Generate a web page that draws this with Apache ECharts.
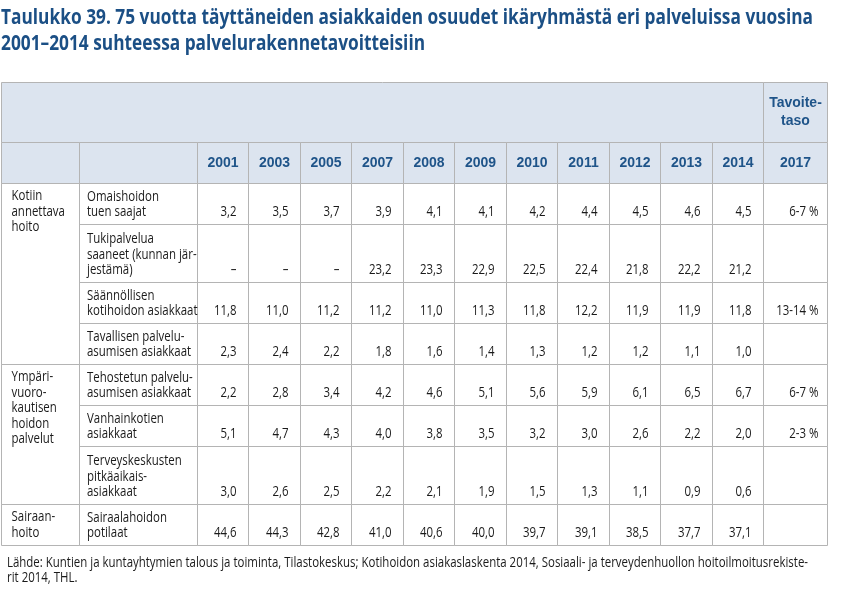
<!DOCTYPE html>
<html>
<head>
<meta charset="utf-8">
<script src="https://cdn.jsdelivr.net/npm/echarts@6/dist/echarts.min.js"></script>
<style>
html,body{margin:0;padding:0;background:#fff;}
#chart{width:842px;height:593px;}
</style>
</head>
<body>
<div id="chart"></div>
<script>
// ---- DATA ----
const titleLines = ['Taulukko 39. 75 vuotta täyttäneiden asiakkaiden osuudet ikäryhmästä eri palveluissa vuosina', '2001–2014 suhteessa palvelurakennetavoitteisiin'];
const sourceLines = ['Lähde: Kuntien ja kuntayhtymien talous ja toiminta, Tilastokeskus; Kotihoidon asiakaslaskenta 2014, Sosiaali- ja terveydenhuollon hoitoilmoitusrekiste-', 'rit 2014, THL.'];
const years = ['2001', '2003', '2005', '2007', '2008', '2009', '2010', '2011', '2012', '2013', '2014'];
const targetHeader = 'Tavoite-\ntaso';
const targetYear = '2017';
const groups = ['Kotiin\nannettava\nhoito', 'Ympäri-\nvuoro-\nkautisen\nhoidon\npalvelut', 'Sairaan-\nhoito'];
const rowGroup = [0, 0, 0, 0, 1, 1, 1, 2];
const services = [
  'Omaishoidon\ntuen saajat',
  'Tukipalvelua\nsaaneet (kunnan jär-\njestämä)',
  'Säännöllisen\nkotihoidon asiakkaat',
  'Tavallisen palvelu-\nasumisen asiakkaat',
  'Tehostetun palvelu-\nasumisen asiakkaat',
  'Vanhainkotien\nasiakkaat',
  'Terveyskeskusten\npitkäaikais-\nasiakkaat',
  'Sairaalahoidon\npotilaat'
];
const omaishoito   = [3.2, 3.5, 3.7, 3.9, 4.1, 4.1, 4.2, 4.4, 4.5, 4.6, 4.5];
const tukipalvelu  = [null, null, null, 23.2, 23.3, 22.9, 22.5, 22.4, 21.8, 22.2, 21.2];
const kotihoito    = [11.8, 11.0, 11.2, 11.2, 11.0, 11.3, 11.8, 12.2, 11.9, 11.9, 11.8];
const tavallinenPA = [2.3, 2.4, 2.2, 1.8, 1.6, 1.4, 1.3, 1.2, 1.2, 1.1, 1.0];
const tehostettuPA = [2.2, 2.8, 3.4, 4.2, 4.6, 5.1, 5.6, 5.9, 6.1, 6.5, 6.7];
const vanhainkoti  = [5.1, 4.7, 4.3, 4.0, 3.8, 3.5, 3.2, 3.0, 2.6, 2.2, 2.0];
const terveyskesk  = [3.0, 2.6, 2.5, 2.2, 2.1, 1.9, 1.5, 1.3, 1.1, 0.9, 0.6];
const sairaala     = [44.6, 44.3, 42.8, 41.0, 40.6, 40.0, 39.7, 39.1, 38.5, 37.7, 37.1];
const rowValues = [omaishoito, tukipalvelu, kotihoito, tavallinenPA, tehostettuPA, vanhainkoti, terveyskesk, sairaala];
const targets = ['6-7 %', '', '13-14 %', '', '6-7 %', '2-3 %', '', ''];

// ---- LAYOUT / STYLE ----
const LAYOUT = {
  firstCols: [78, 118], yearW: 51.5, targetW: 64,
  headH: [60, 41], lineStep: 17, rowPad: 7,
  left: 1, top: 82,
  titleWidth: 812, sourceWidth: 801
};
const STYLE = {
  border: '#b4b4b4', headFill: '#dce4ef', headColor: '#1f5489',
  titleColor: '#1b4f85', textColor: '#1a1a1a',
  body: '"Open Sans", "Noto Sans", sans-serif',
  wide: '"Liberation Sans", Arial, sans-serif'
};
const bodyFont = '14px ' + STYLE.body;
const titleFont = 'bold 21px ' + STYLE.body;

const mctx = document.createElement('canvas').getContext('2d');
function textW(font, s) { mctx.font = font; return mctx.measureText(s).width; }
const bodyScale = LAYOUT.sourceWidth / textW(bodyFont, sourceLines[0]);
const titleScale = LAYOUT.titleWidth / textW(titleFont, titleLines[0]);

const fmt = v => v == null ? '–' : v.toFixed(1).replace('.', ',');

// column edges
const colEdges = [0];
LAYOUT.firstCols.forEach(w => colEdges.push(colEdges[colEdges.length - 1] + w));
years.forEach(() => colEdges.push(colEdges[colEdges.length - 1] + LAYOUT.yearW));
colEdges.push(colEdges[colEdges.length - 1] + LAYOUT.targetW);
const totalW = colEdges[colEdges.length - 1];

// row edges
const rowEdges = [0];
LAYOUT.headH.forEach(h => rowEdges.push(rowEdges[rowEdges.length - 1] + h));
services.forEach(s => rowEdges.push(rowEdges[rowEdges.length - 1] + s.split('\n').length * LAYOUT.lineStep + LAYOUT.rowPad));
const totalH = rowEdges[rowEdges.length - 1];

const nYearEnd = 2 + years.length;
const cells = [];
function addCell(c0, c1, r0, r1, text, kind) {
  cells.push({ v: [colEdges[c0], colEdges[c1], rowEdges[r0], rowEdges[r1]], text, kind });
}
addCell(0, nYearEnd, 0, 1, '', 'head');
addCell(nYearEnd, nYearEnd + 1, 0, 1, targetHeader, 'headText');
addCell(0, 1, 1, 2, '', 'head');
addCell(1, 2, 1, 2, '', 'head');
years.forEach((y, i) => addCell(2 + i, 3 + i, 1, 2, y, 'headText'));
addCell(nYearEnd, nYearEnd + 1, 1, 2, targetYear, 'headText');
groups.forEach((g, gi) => {
  const rows = rowGroup.map((x, i) => x === gi ? i : -1).filter(i => i >= 0);
  addCell(0, 1, 2 + rows[0], 3 + rows[rows.length - 1], g, 'group');
});
services.forEach((s, r) => {
  addCell(1, 2, 2 + r, 3 + r, s, 'service');
  rowValues[r].forEach((v, i) => addCell(2 + i, 3 + i, 2 + r, 3 + r, fmt(v), 'value'));
  addCell(nYearEnd, nYearEnd + 1, 2 + r, 3 + r, targets[r], 'target');
});

const crisp = x => Math.floor(x) + 0.5;

function renderItem(params, api) {
  const cell = cells[params.dataIndex];
  const p0 = api.coord([api.value(0), api.value(2)]);
  const p1 = api.coord([api.value(1), api.value(3)]);
  const x0 = crisp(p0[0]), y0 = crisp(p0[1]), x1 = crisp(p1[0]), y1 = crisp(p1[1]);
  const isHead = cell.kind === 'head' || cell.kind === 'headText';
  const children = [{
    type: 'rect',
    shape: { x: x0, y: y0, width: x1 - x0, height: y1 - y0 },
    style: { fill: isHead ? STYLE.headFill : 'rgba(0,0,0,0)', stroke: STYLE.border, lineWidth: 1 }
  }];
  if (cell.text) {
    let pos, st, sc = bodyScale;
    if (cell.kind === 'headText') {
      pos = [(x0 + x1) / 2, (y0 + y1) / 2]; sc = 1;
      st = { align: 'center', verticalAlign: 'middle', font: 'bold 14px ' + STYLE.wide, fill: STYLE.headColor, lineHeight: 18 };
    } else if (cell.kind === 'group') {
      pos = [x0 + 10, y0 + 5];
      st = { align: 'left', verticalAlign: 'top', font: bodyFont, fill: STYLE.textColor, lineHeight: 15.5 };
    } else if (cell.kind === 'service') {
      pos = [x0 + 7.5, y1 - 4.5];
      st = { align: 'left', verticalAlign: 'bottom', font: bodyFont, fill: STYLE.textColor, lineHeight: 15.5 };
    } else if (cell.kind === 'value') {
      pos = [x1 - 12, y1 - 4.5];
      st = { align: 'right', verticalAlign: 'bottom', font: bodyFont, fill: STYLE.textColor, lineHeight: 15.5 };
    } else {
      pos = [x1 - 9, y1 - 4.5];
      st = { align: 'right', verticalAlign: 'bottom', font: bodyFont, fill: STYLE.textColor, lineHeight: 15.5 };
    }
    st.text = cell.text; st.x = 0; st.y = 0;
    children.push({ type: 'text', x: pos[0], y: pos[1], scaleX: sc, style: st, z2: 10 });
  }
  return { type: 'group', children };
}

const chart = echarts.init(document.getElementById('chart'), null, { renderer: 'canvas' });
chart.setOption({
  animation: false,
  backgroundColor: '#ffffff',
  graphic: [
    { type: 'text', x: 1, y: 18.5, scaleX: titleScale, style: { text: titleLines[0], font: titleFont, fill: STYLE.titleColor, verticalAlign: 'middle' } },
    { type: 'text', x: 1, y: 44.5, scaleX: titleScale, style: { text: titleLines[1], font: titleFont, fill: STYLE.titleColor, verticalAlign: 'middle' } },
    { type: 'text', x: 7, y: 563, scaleX: bodyScale, style: { text: sourceLines[0], font: bodyFont, fill: STYLE.textColor, verticalAlign: 'middle' } },
    { type: 'text', x: 7, y: 578.5, scaleX: bodyScale, style: { text: sourceLines[1], font: bodyFont, fill: STYLE.textColor, verticalAlign: 'middle' } }
  ],
  grid: { left: LAYOUT.left, top: LAYOUT.top, width: totalW, height: totalH },
  xAxis: { type: 'value', min: 0, max: totalW, show: false },
  yAxis: { type: 'value', min: 0, max: totalH, inverse: true, show: false },
  series: [{
    type: 'custom', renderItem, clip: false,
    data: cells.map(c => c.v)
  }]
});
</script>
</body>
</html>
